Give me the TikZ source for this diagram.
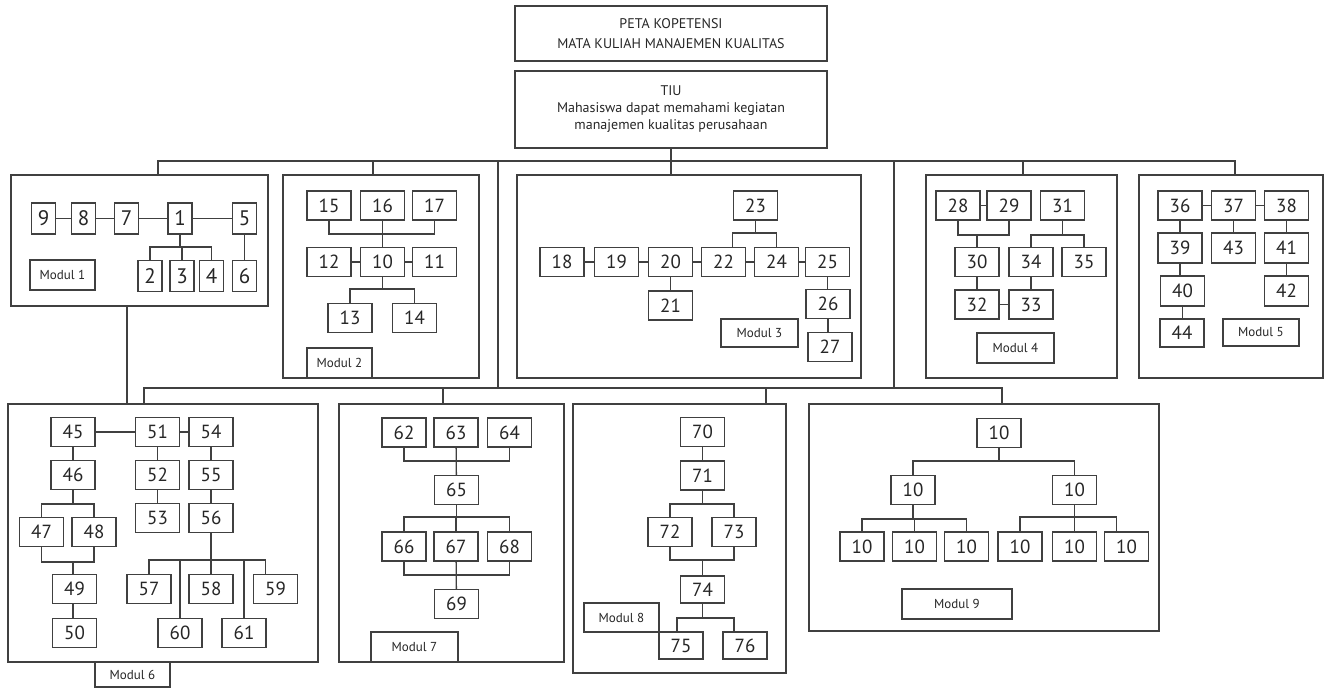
\documentclass[tikz,border=0pt]{standalone}
\usepackage{fontspec}
\setmainfont{PT Sans}
\begin{document}
\begin{tikzpicture}[x=1pt,y=-1pt,
  ln/.style={draw=black!75, line width=1.3pt},
  num/.style={draw=black!75, line width=1.3pt, fill=white, minimum width=44pt, minimum height=29pt,
    inner sep=0pt, text=black!85, font=\fontsize{19}{19}\selectfont},
  dig/.style={num, minimum width=24pt, minimum height=31pt, font=\fontsize{21}{21}\selectfont},
  modbox/.style={draw=black!75, line width=1.5pt, inner sep=0pt},
  tag/.style={draw=black!75, line width=1.3pt, fill=white, inner sep=0pt, text=black!85,
    font=\fontsize{13}{13}\selectfont},
  head/.style={draw=black!75, line width=1.5pt, inner sep=0pt, align=center, text=black!85,
    font=\fontsize{14}{17}\selectfont}
]
\useasboundingbox (0,0) rectangle (1327,689);

% ---------- heading ----------
\node[head, minimum width=312pt, minimum height=55pt] (title) at (671,33.5)
  {PETA KOPETENSI\\[3pt] MATA KULIAH MANAJEMEN KUALITAS};
\node[head, minimum width=312pt, minimum height=77pt] (tiu) at (671,109.5)
  {TIU\\ Mahasiswa dapat memahami kegiatan\\ manajemen kualitas perusahaan};

% ---------- module frames ----------
\node[modbox, minimum width=257pt, minimum height=131pt] (mod1) at (139.5,240.5) {};
\node[modbox, minimum width=196pt, minimum height=203pt] (mod2) at (381,276.5) {};
\node[modbox, minimum width=344pt, minimum height=203pt] (mod3) at (689,276.5) {};
\node[modbox, minimum width=191pt, minimum height=203pt] (mod4) at (1021.5,276.5) {};
\node[modbox, minimum width=184pt, minimum height=203pt] (mod5) at (1231,276.5) {};
\node[modbox, minimum width=310pt, minimum height=258pt] (mod6) at (163,533) {};
\node[modbox, minimum width=225pt, minimum height=258pt] (mod7) at (451.5,533) {};
\node[modbox, minimum width=213pt, minimum height=269pt] (mod8) at (679.5,538.5) {};
\node[modbox, minimum width=350pt, minimum height=227pt] (mod9) at (984,517.5) {};

% ---------- tree between frames ----------
\coordinate (t1) at (158,161);
\coordinate (t2) at (373,161);
\coordinate (t4) at (1023,161);
\coordinate (t5) at (1235,161);
\coordinate (ta) at (498,161);
\coordinate (tb) at (894,161);
\coordinate (s1) at (144,388);
\coordinate (s7) at (443,388);
\coordinate (s8) at (766,388);
\coordinate (s9) at (1002,388);
\coordinate (k)  at (127,350);

\draw[ln] (tiu.south) -- (tiu.south |- mod3.north);
\draw[ln] (t1 |- mod1.north) -- (t1) -- (t5) -- (t5 |- mod5.north);
\draw[ln] (t2) -- (t2 |- mod2.north);
\draw[ln] (t4) -- (t4 |- mod4.north);
\draw[ln] (ta) -- (ta |- s1);
\draw[ln] (tb) -- (tb |- s1);
\draw[ln] (s1 |- mod6.north) -- (s1) -- (s9) -- (s9 |- mod9.north);
\draw[ln] (s7) -- (s7 |- mod7.north);
\draw[ln] (s8) -- (s8 |- mod8.north);
\draw[ln] (k |- mod1.south) -- (k |- mod6.north);

% ---------- Modul 1 ----------
\node[dig] (a9) at (43.5,218.5) {9};
\node[dig] (a8) at (83.5,218.5) {8};
\node[dig] (a7) at (126.5,218.5) {7};
\node[dig] (a1) at (180,218.5) {1};
\node[dig] (a5) at (244.5,218.5) {5};
\node[dig] (a2) at (150,276) {2};
\node[dig] (a3) at (182,276) {3};
\node[dig] (a4) at (211.5,276) {4};
\node[dig] (a6) at (244.5,276) {6};
\node[tag, minimum width=65pt, minimum height=30pt] (la) at (62.5,275) {Modul 1};
\draw[ln] (a9) -- (a8);
\draw[ln] (a8) -- (a7);
\draw[ln] (a7) -- (a1);
\draw[ln] (a1) -- (a5);
\draw[ln] (a5) -- (a6);
\draw[ln] (a1.south) -- (a1.south |- 0,247);
\draw[ln] (a2.north) |- (a4.north |- 0,247) -- (a4.north);
\draw[ln] (a3.north) -- (a3.north |- 0,247);

% ---------- Modul 2 ----------
\node[num] (b15) at (329,205.5) {15};
\node[num] (b16) at (382.5,205.5) {16};
\node[num] (b17) at (434.5,205.5) {17};
\node[num] (b12) at (329,262) {12};
\node[num] (b10) at (382.5,262) {10};
\node[num] (b11) at (434.5,262) {11};
\node[num] (b13) at (350,318) {13};
\node[num] (b14) at (414.5,318) {14};
\node[tag, minimum width=65pt, minimum height=30pt] (lb) at (339.5,363) {Modul 2};
\draw[ln] (b15.south) |- (b17.south |- 0,234) -- (b17.south);
\draw[ln] (b16) -- (b10);
\draw[ln] (b12) -- (b10);
\draw[ln] (b10) -- (b11);
\draw[ln] (b10.south) -- (b10.south |- 0,289);
\draw[ln] (b13.north) |- (b14.north |- 0,289) -- (b14.north);

% ---------- Modul 3 ----------
\node[num] (c23) at (755.5,205.5) {23};
\node[num] (c18) at (562,262) {18};
\node[num] (c19) at (616.5,262) {19};
\node[num] (c20) at (670.5,262) {20};
\node[num] (c22) at (723.5,262) {22};
\node[num] (c24) at (776.5,262) {24};
\node[num] (c25) at (827.5,262) {25};
\node[num] (c21) at (670.5,305.5) {21};
\node[num] (c26) at (828,304) {26};
\node[num] (c27) at (830,347) {27};
\node[tag, minimum width=77pt, minimum height=28pt] (lc) at (759.5,333) {Modul 3};
\draw[ln] (c18) -- (c19);
\draw[ln] (c19) -- (c20);
\draw[ln] (c20) -- (c22);
\draw[ln] (c22) -- (c24);
\draw[ln] (c24) -- (c25);
\draw[ln] (c20) -- (c21);
\draw[ln] (c25.south) -- (c25.south |- c26.north);
\draw[ln] (c26.south) -- (c26.south |- c27.north);
\draw[ln] (c23.south) -- (c23.south |- 0,233);
\draw[ln] ([xshift=9pt]c22.north) |- (c24.north |- 0,233) -- (c24.north);

% ---------- Modul 4 ----------
\node[num] (d28) at (958,205.5) {28};
\node[num] (d29) at (1009,205.5) {29};
\node[num] (d31) at (1062.5,205.5) {31};
\node[num] (d30) at (977,262) {30};
\node[num] (d34) at (1031,262) {34};
\node[num] (d35) at (1084,262) {35};
\node[num] (d32) at (977,304.5) {32};
\node[num] (d33) at (1031,304.5) {33};
\node[tag, minimum width=77pt, minimum height=30pt] (ld) at (1015.5,348) {Modul 4};
\draw[ln] (d28) -- (d29);
\draw[ln] (d28.south) |- (d29.south |- 0,235) -- (d29.south);
\draw[ln] (d30.north) -- (d30.north |- 0,235);
\draw[ln] (d31.south) -- (d31.south |- 0,235);
\draw[ln] (d34.north) |- (d35.north |- 0,235) -- (d35.north);
\draw[ln] (d30) -- (d32);
\draw[ln] (d32) -- (d33);
\draw[ln] (d34) -- (d33);

% ---------- Modul 5 ----------
\node[num] (e36) at (1180,205.5) {36};
\node[num] (e37) at (1233.5,205.5) {37};
\node[num] (e38) at (1286.5,205.5) {38};
\node[num, minimum height=30pt] (e39) at (1180,248) {39};
\node[num, minimum height=30pt] (e43) at (1233.5,248) {43};
\node[num, minimum height=30pt] (e41) at (1286.5,248) {41};
\node[num, minimum height=30pt] (e40) at (1182.5,291) {40};
\node[num, minimum height=30pt] (e42) at (1286.5,291) {42};
\node[num, minimum height=28pt] (e44) at (1182,333) {44};
\node[tag, minimum width=76pt, minimum height=27pt] (le) at (1261,332.5) {Modul 5};
\draw[ln] (e36) -- (e37);
\draw[ln] (e37) -- (e38);
\draw[ln] (e36.south) -- (e36.south |- e39.north);
\draw[ln] (e39.south) -- (e39.south |- e40.north);
\draw[ln] (e40.south) -- (e40.south |- e44.north);
\draw[ln] (e37) -- (e43);
\draw[ln] (e38) -- (e41);
\draw[ln] (e41) -- (e42);

% ---------- Modul 6 ----------
\node[num] (f45) at (73,432) {45};
\node[num] (f51) at (157.5,432) {51};
\node[num] (f54) at (211,432) {54};
\node[num] (f46) at (73,475) {46};
\node[num] (f52) at (157.5,475) {52};
\node[num] (f55) at (211,475) {55};
\node[num] (f53) at (157.5,518) {53};
\node[num] (f56) at (211,518) {56};
\node[num] (f47) at (41.5,532) {47};
\node[num] (f48) at (94,532) {48};
\node[num] (f49) at (74.5,589) {49};
\node[num] (f50) at (74.5,633) {50};
\node[num] (f57) at (149,589) {57};
\node[num] (f58) at (211,589) {58};
\node[num] (f59) at (275.5,589) {59};
\node[num] (f60) at (180,633) {60};
\node[num] (f61) at (244,633) {61};
\node[tag, minimum width=75pt, minimum height=25pt] (lf) at (132.5,674.5) {Modul 6};
\draw[ln] (f45) -- (f51);
\draw[ln] (f51) -- (f54);
\draw[ln] (f45) -- (f46);
\draw[ln] (f51) -- (f52);
\draw[ln] (f52) -- (f53);
\draw[ln] (f54) -- (f55);
\draw[ln] (f55) -- (f56);
\draw[ln] (f46.south) -- (f46.south |- 0,504);
\draw[ln] (f47.north) |- (f48.north |- 0,504) -- (f48.north);
\draw[ln] (f47.south) |- (f48.south |- 0,562) -- (f48.south);
\draw[ln] (f49.north -| f46.south) -- (f46.south |- 0,562);
\draw[ln] (f49.south -| f46.south) -- (f50.north -| f46.south);
\draw[ln] (f56.south) -- (f56.south |- 0,560);
\draw[ln] (f57.north) |- ([xshift=-10pt]f59.north |- 0,560) -- ([xshift=-10pt]f59.north);
\draw[ln] (f58.north) -- (f58.north |- 0,560);
\draw[ln] (f60.north) -- (f60.north |- 0,560);
\draw[ln] (f61.north) -- (f61.north |- 0,560);

% ---------- Modul 7 ----------
\node[num] (g62) at (404,432.5) {62};
\node[num] (g63) at (456,432.5) {63};
\node[num] (g64) at (509.5,432.5) {64};
\node[num] (g65) at (456.5,490) {65};
\node[num] (g66) at (404,546.5) {66};
\node[num] (g67) at (456,546.5) {67};
\node[num] (g68) at (509.5,546.5) {68};
\node[num] (g69) at (456.5,604) {69};
\node[tag, minimum width=87pt, minimum height=30pt] (lg) at (414.5,647) {Modul 7};
\draw[ln] (g62.south) |- (g64.south |- 0,461) -- (g64.south);
\draw[ln] (g63) -- (g65);
\draw[ln] (g65.south) -- (g65.south |- 0,517);
\draw[ln] (g66.north) |- (g68.north |- 0,517) -- (g68.north);
\draw[ln] (g67.north) -- (g67.north |- 0,517);
\draw[ln] (g66.south) |- (g68.south |- 0,575) -- (g68.south);
\draw[ln] (g67) -- (g69);

% ---------- Modul 8 ----------
\node[num] (h70) at (702.5,432) {70};
\node[num] (h71) at (702.5,475.5) {71};
\node[num] (h72) at (670,532) {72};
\node[num] (h73) at (734,532) {73};
\node[num, minimum height=27pt] (h74) at (702.5,589.5) {74};
\node[num, minimum height=27pt] (h75) at (681,645.5) {75};
\node[num, minimum height=27pt] (h76) at (745,645.5) {76};
\node[tag, minimum width=75pt, minimum height=29pt] (lh) at (621.5,617.5) {Modul 8};
\draw[ln] (h70) -- (h71);
\draw[ln] (h71.south) -- (h71.south |- 0,504);
\draw[ln] (h72.north) |- (h73.north |- 0,504) -- (h73.north);
\draw[ln] (h72.south) |- (h73.south |- 0,560) -- (h73.south);
\draw[ln] (h74.north) -- (h74.north |- 0,560);
\draw[ln] (h74.south) -- (h74.south |- 0,618);
\draw[ln] ([xshift=-4pt]h75.north) |- ([xshift=-11pt]h76.north |- 0,618) -- ([xshift=-11pt]h76.north);

% ---------- Modul 9 ----------
\node[num] (i0) at (999,433) {10};
\node[num] (iL) at (913,490) {10};
\node[num] (iR) at (1074.5,490) {10};
\node[num] (ia) at (862,546.5) {10};
\node[num] (ib) at (914.5,546.5) {10};
\node[num] (ic) at (966.5,546.5) {10};
\node[num] (id) at (1020,546.5) {10};
\node[num] (ie) at (1074.5,546.5) {10};
\node[num] (if) at (1126.5,546.5) {10};
\node[tag, minimum width=110pt, minimum height=30pt] (li) at (957,604) {Modul 9};
\draw[ln] (i0.south) -- (i0.south |- 0,461);
\draw[ln] (iL.north) |- (iR.north |- 0,461) -- (iR.north);
\draw[ln] (iL.south) -- (iL.south |- 0,519);
\draw[ln] (ia.north) |- (ic.north |- 0,519) -- (ic.north);
\draw[ln] (ib.north) -- (ib.north |- 0,519);
\draw[ln] (iR.south) -- (iR.south |- 0,517);
\draw[ln] (id.north) |- ([xshift=-10pt]if.north |- 0,517) -- ([xshift=-10pt]if.north);
\draw[ln] (ie.north) -- (ie.north |- 0,517);
\end{tikzpicture}
\end{document}
